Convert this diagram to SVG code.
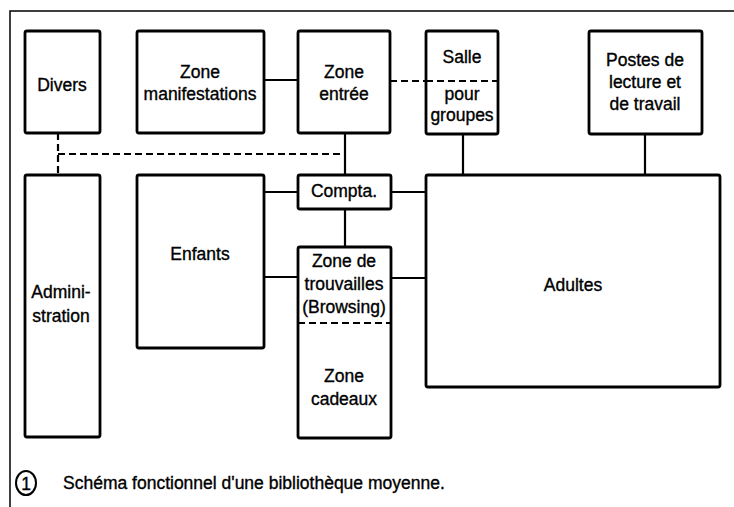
<svg xmlns="http://www.w3.org/2000/svg" width="734" height="507" viewBox="0 0 734 507">
<style>
.box{fill:#fff;stroke:#000;stroke-width:2.8}
.ln{stroke:#000;stroke-width:2.2;fill:none}
.dash{stroke:#000;stroke-width:2.2;fill:none;stroke-dasharray:7,4}
text{font-family:"Liberation Sans",Arial,sans-serif;font-size:17.5px;fill:#000;stroke:#000;stroke-width:0.35;text-anchor:middle}
</style>
<rect width="734" height="507" fill="#fff"/>
<path d="M10,507 V11 H734" fill="none" stroke="#000" stroke-width="1.5"/>
<g id="connectors">
<line class="ln" x1="264" y1="80" x2="298" y2="80"/>
<line class="dash" x1="390" y1="81" x2="426" y2="81"/>
<line class="dash" x1="58" y1="154" x2="345" y2="154"/>
<line class="dash" x1="58" y1="133" x2="58" y2="175"/>
<line class="ln" x1="345" y1="133" x2="345" y2="175"/>
<line class="ln" x1="264" y1="192" x2="298" y2="192"/>
<line class="ln" x1="391" y1="192" x2="426" y2="192"/>
<line class="ln" x1="345" y1="209" x2="345" y2="247"/>
<line class="ln" x1="264" y1="277" x2="298" y2="277"/>
<line class="ln" x1="391" y1="278" x2="426" y2="278"/>
<line class="ln" x1="463" y1="134" x2="463" y2="175"/>
<line class="ln" x1="645" y1="134" x2="645" y2="175"/>
</g>
<g id="divers"><rect class="box" x="25" y="31" width="75" height="102" rx="2"/><text x="62" y="91">Divers</text></g>
<g id="zone-manifestations"><rect class="box" x="137" y="31" width="127" height="102" rx="2"/><text x="200" y="78">Zone</text><text x="200" y="100">manifestations</text></g>
<g id="zone-entree"><rect class="box" x="298" y="31" width="92" height="102" rx="2"/><text x="344" y="78">Zone</text><text x="344" y="100">entrée</text></g>
<g id="salle-groupes"><rect class="box" x="426" y="31" width="72" height="103" rx="2"/><line class="dash" x1="426" y1="81" x2="498" y2="81"/><text x="462" y="63">Salle</text><text x="462" y="100">pour</text><text x="462" y="121">groupes</text></g>
<g id="postes"><rect class="box" x="589" y="31" width="113" height="103" rx="2"/><text x="645" y="66">Postes de</text><text x="645" y="88">lecture et</text><text x="645" y="110">de travail</text></g>
<g id="administration"><rect class="box" x="25" y="175" width="75" height="262" rx="2"/><text x="61" y="298">Admini-</text><text x="61" y="322">stration</text></g>
<g id="enfants"><rect class="box" x="137" y="175" width="127" height="173" rx="2"/><text x="200" y="260">Enfants</text></g>
<g id="compta"><rect class="box" x="298" y="175" width="93" height="34" rx="2"/><text x="344" y="197">Compta.</text></g>
<g id="zone-trouvailles"><rect class="box" x="298" y="247" width="93" height="191" rx="2"/><line class="dash" x1="298" y1="323" x2="391" y2="323"/><text x="344" y="267">Zone de</text><text x="344" y="290">trouvailles</text><text x="344" y="313">(Browsing)</text><text x="344" y="382">Zone</text><text x="344" y="405">cadeaux</text></g>
<g id="adultes"><rect class="box" x="426" y="175" width="294" height="212" rx="2"/><text x="573" y="291">Adultes</text></g>
<g id="caption"><ellipse cx="26" cy="483" rx="10" ry="12" fill="none" stroke="#000" stroke-width="2"/><text x="26" y="490">1</text><text x="63" y="489" style="text-anchor:start">Schéma fonctionnel d'une bibliothèque moyenne.</text></g>
</svg>
